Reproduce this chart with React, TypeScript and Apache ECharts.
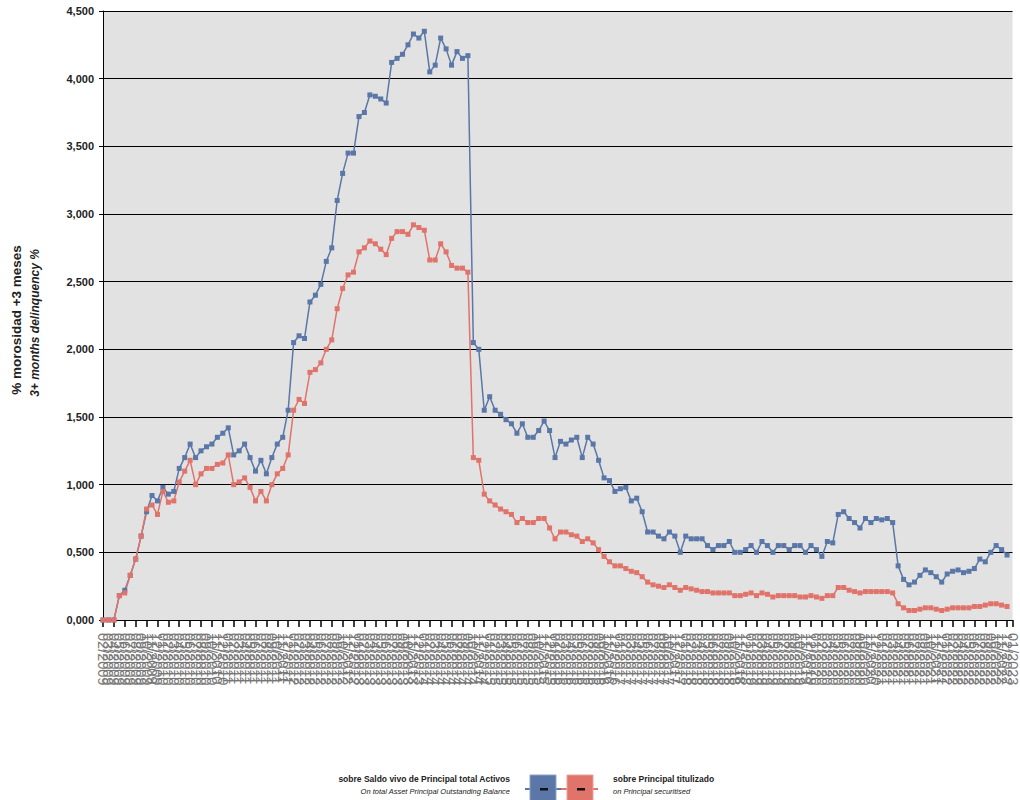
import React, { useEffect, useRef } from "react";
import * as echarts from "echarts";

const MONTHS = ["01", "02", "03", "04", "05", "06", "07", "08", "09", "10", "11", "12"];
const YEARS = ["2009", "2010", "2011", "2012", "2013", "2014", "2015", "2016", "2017", "2018", "2019", "2020", "2021", "2022", "2023"];
const START_MONTH_INDEX = 1; // Feb 2009
const CATEGORY_COUNT = 168;

const BLUE = [
  0, 0, 0, 0.18, 0.22, 0.33, 0.45, 0.62, 0.8, 0.92,
  0.88, 0.98, 0.93, 0.95, 1.12, 1.2, 1.3, 1.2, 1.25, 1.28,
  1.3, 1.35, 1.38, 1.42, 1.22, 1.25, 1.3, 1.2, 1.1, 1.18,
  1.08, 1.2, 1.3, 1.35, 1.55, 2.05, 2.1, 2.08, 2.35, 2.4,
  2.48, 2.65, 2.75, 3.1, 3.3, 3.45, 3.45, 3.72, 3.75, 3.88,
  3.87, 3.85, 3.82, 4.12, 4.15, 4.18, 4.25, 4.33, 4.3, 4.35,
  4.05, 4.1, 4.3, 4.22, 4.1, 4.2, 4.15, 4.17, 2.05, 2.0,
  1.55, 1.65, 1.55, 1.52, 1.48, 1.45, 1.38, 1.45, 1.35, 1.35,
  1.4, 1.47, 1.4, 1.2, 1.32, 1.3, 1.33, 1.35, 1.2, 1.35,
  1.3, 1.18, 1.05, 1.03, 0.95, 0.97, 0.98, 0.88, 0.9, 0.8,
  0.65, 0.65, 0.62, 0.6, 0.65, 0.62, 0.5, 0.62, 0.6, 0.6,
  0.6, 0.55, 0.52, 0.55, 0.55, 0.58, 0.5, 0.5, 0.52, 0.55,
  0.5, 0.58, 0.55, 0.5, 0.55, 0.55, 0.52, 0.55, 0.55, 0.5,
  0.55, 0.52, 0.47, 0.58, 0.57, 0.78, 0.8, 0.75, 0.72, 0.68,
  0.75, 0.72, 0.75, 0.74, 0.75, 0.72, 0.4, 0.3, 0.26, 0.28,
  0.33, 0.37, 0.35, 0.32, 0.28, 0.34, 0.36, 0.37, 0.35, 0.36,
  0.38, 0.45, 0.43, 0.5, 0.55, 0.52, 0.48,
];

const RED = [
  0, 0, 0, 0.18, 0.2, 0.33, 0.45, 0.62, 0.82, 0.85,
  0.78, 0.95, 0.87, 0.88, 1.02, 1.1, 1.18, 1.0, 1.08, 1.12,
  1.12, 1.15, 1.16, 1.22, 1.0, 1.02, 1.05, 0.98, 0.88, 0.95,
  0.88, 1.0, 1.08, 1.12, 1.22, 1.55, 1.63, 1.6, 1.83, 1.85,
  1.9, 2.0, 2.07, 2.3, 2.45, 2.55, 2.57, 2.72, 2.75, 2.8,
  2.78, 2.74, 2.7, 2.82, 2.87, 2.87, 2.85, 2.92, 2.9, 2.88,
  2.66, 2.66, 2.78, 2.72, 2.62, 2.6, 2.6, 2.57, 1.2, 1.18,
  0.93, 0.88, 0.85, 0.82, 0.8, 0.78, 0.72, 0.75, 0.72, 0.72,
  0.75, 0.75, 0.68, 0.6, 0.65, 0.65, 0.63, 0.62, 0.58, 0.6,
  0.57, 0.52, 0.47, 0.43, 0.4, 0.4, 0.38, 0.36, 0.35, 0.32,
  0.28, 0.26, 0.25, 0.24, 0.26, 0.24, 0.22, 0.24, 0.23, 0.22,
  0.21, 0.21, 0.2, 0.2, 0.2, 0.2, 0.18, 0.18, 0.19, 0.2,
  0.18, 0.2, 0.19, 0.17, 0.18, 0.18, 0.18, 0.18, 0.17, 0.17,
  0.18, 0.17, 0.16, 0.18, 0.18, 0.24, 0.24, 0.22, 0.21, 0.2,
  0.21, 0.21, 0.21, 0.21, 0.21, 0.2, 0.12, 0.09, 0.07, 0.07,
  0.08, 0.09, 0.09, 0.08, 0.07, 0.08, 0.09, 0.09, 0.09, 0.09,
  0.1, 0.1, 0.11, 0.12, 0.12, 0.11, 0.1,
];

const SERIES_NAMES = ["sobre Saldo vivo de Principal total Activos", "sobre Principal titulizado"];
const SERIES_SUBNAMES = ["On total Asset Principal Outstanding Balance", "on Principal securitised"];
const Y_TITLE = ["% morosidad +3 meses", "3+ months delinquency %"];

const BLUE_COLOR = "#5a77a7";
const RED_COLOR = "#e0736a";
const FONT = "Liberation Sans, Arial, sans-serif";

function buildCategories(): string[] {
  const all: string[] = [];
  YEARS.forEach((y) => {
    MONTHS.forEach((m) => {
      all.push(m + "/" + y);
    });
  });
  return all.slice(START_MONTH_INDEX, START_MONTH_INDEX + CATEGORY_COUNT);
}

export default function App() {
  const ref = useRef<HTMLDivElement>(null);

  useEffect(() => {
    if (!ref.current) return;
    const chart = echarts.init(ref.current, undefined, { renderer: "svg" });
    const categories = buildCategories();

    chart.setOption({
      animation: false,
      backgroundColor: "#ffffff",
      grid: {
        left: 103,
        top: 11,
        right: 0,
        bottom: 180,
        show: true,
        backgroundColor: "#e2e2e2",
        borderWidth: 0,
      },
      xAxis: {
        type: "category",
        data: categories,
        boundaryGap: false,
        axisLine: { show: true, lineStyle: { color: "#000", width: 1 } },
        axisTick: { show: true, interval: 1, length: 7, lineStyle: { color: "#000", width: 1.5 } },
        axisLabel: {
          interval: 0,
          rotate: -90,
          margin: 13,
          fontSize: 14.5,
          fontFamily: FONT,
          color: "#777",
        },
        splitLine: { show: false },
      },
      yAxis: {
        type: "value",
        min: 0,
        max: 4.5,
        interval: 0.5,
        axisLine: { show: true, lineStyle: { color: "#000", width: 1 } },
        axisTick: { show: true, length: 4, lineStyle: { color: "#000" } },
        axisLabel: {
          margin: 9,
          fontSize: 11,
          fontWeight: "bold",
          fontFamily: FONT,
          color: "#222",
          formatter: (v: number) => v.toFixed(3).replace(".", ","),
        },
        splitLine: { show: true, lineStyle: { color: "#000", width: 1.2 } },
      },
      series: [
        {
          name: SERIES_NAMES[0],
          type: "line",
          data: BLUE,
          symbol: "rect",
          symbolSize: 5,
          itemStyle: { color: BLUE_COLOR },
          lineStyle: { color: BLUE_COLOR, width: 1.5 },
        },
        {
          name: SERIES_NAMES[1],
          type: "line",
          data: RED,
          symbol: "rect",
          symbolSize: 5,
          itemStyle: { color: RED_COLOR },
          lineStyle: { color: RED_COLOR, width: 1.5 },
        },
      ],
      graphic: [
        {
          type: "text",
          x: 16,
          y: 320,
          rotation: Math.PI / 2,
          style: {
            text: Y_TITLE[0],
            fontSize: 13.5,
            fontWeight: "bold",
            fontFamily: FONT,
            fill: "#222",
            align: "center",
            verticalAlign: "middle",
          },
        },
        {
          type: "text",
          x: 35,
          y: 323,
          rotation: Math.PI / 2,
          style: {
            text: Y_TITLE[1],
            fontSize: 12,
            fontWeight: "bold",
            fontStyle: "italic",
            fontFamily: FONT,
            fill: "#222",
            align: "center",
            verticalAlign: "middle",
          },
        },
        {
          type: "text",
          x: 510,
          y: 779,
          style: {
            text: SERIES_NAMES[0],
            fontSize: 8.5,
            fontWeight: "bold",
            fontFamily: FONT,
            fill: "#222",
            align: "right",
            verticalAlign: "middle",
          },
        },
        {
          type: "text",
          x: 510,
          y: 791,
          style: {
            text: SERIES_SUBNAMES[0],
            fontSize: 7.5,
            fontStyle: "italic",
            fontFamily: FONT,
            fill: "#222",
            align: "right",
            verticalAlign: "middle",
          },
        },
        {
          type: "text",
          x: 613,
          y: 779,
          style: {
            text: SERIES_NAMES[1],
            fontSize: 8.5,
            fontWeight: "bold",
            fontFamily: FONT,
            fill: "#222",
            align: "left",
            verticalAlign: "middle",
          },
        },
        {
          type: "text",
          x: 613,
          y: 791,
          style: {
            text: SERIES_SUBNAMES[1],
            fontSize: 7.5,
            fontStyle: "italic",
            fontFamily: FONT,
            fill: "#222",
            align: "left",
            verticalAlign: "middle",
          },
        },
        {
          type: "line",
          shape: { x1: 525, y1: 789, x2: 561, y2: 789 },
          style: { stroke: BLUE_COLOR, lineWidth: 2 },
        },
        {
          type: "line",
          shape: { x1: 561, y1: 789, x2: 598, y2: 789 },
          style: { stroke: RED_COLOR, lineWidth: 2 },
        },
        {
          type: "rect",
          shape: { x: 530, y: 775, width: 26, height: 27 },
          style: { fill: BLUE_COLOR, stroke: "#8ea3c6", lineWidth: 1 },
        },
        {
          type: "rect",
          shape: { x: 567, y: 775, width: 26, height: 27 },
          style: { fill: RED_COLOR, stroke: "#eba39c", lineWidth: 1 },
        },
        {
          type: "rect",
          shape: { x: 540, y: 788, width: 8, height: 2.5 },
          style: { fill: "#111" },
        },
        {
          type: "rect",
          shape: { x: 577, y: 788, width: 8, height: 2.5 },
          style: { fill: "#111" },
        },
      ],
    });

    return () => {
      chart.dispose();
    };
  }, []);

  return (
    <div
      ref={ref}
      style={{ position: "absolute", left: 0, top: 0, width: 1020, height: 800 }}
    />
  );
}
